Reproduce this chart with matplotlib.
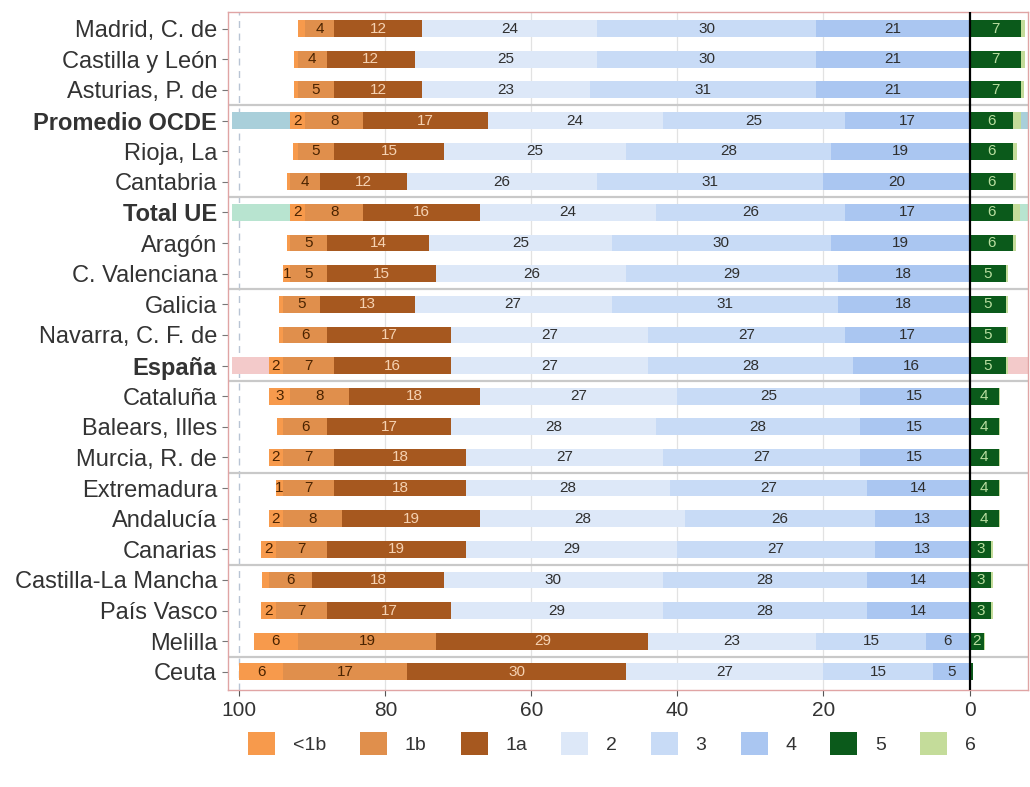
import matplotlib
matplotlib.use('Agg')
import matplotlib.pyplot as plt
from matplotlib.patches import Patch

plt.rcParams['font.family'] = ['Liberation Sans', 'DejaVu Sans']

regions = ['Madrid, C. de', 'Castilla y León', 'Asturias, P. de', 'Promedio OCDE',
           'Rioja, La', 'Cantabria', 'Total UE', 'Aragón', 'C. Valenciana', 'Galicia',
           'Navarra, C. F. de', 'España', 'Cataluña', 'Balears, Illes', 'Murcia, R. de',
           'Extremadura', 'Andalucía', 'Canarias', 'Castilla-La Mancha', 'País Vasco',
           'Melilla', 'Ceuta']

# percentage of students per proficiency level
lvl_lt1b = [0.9, 0.5, 0.5, 2, 0.6, 0.5, 2, 0.5, 1, 0.5, 0.5, 2, 3, 0.9, 2, 1, 2, 2, 0.9, 2, 6, 6]
lvl_1b = [4, 4, 5, 8, 5, 4, 8, 5, 5, 5, 6, 7, 8, 6, 7, 7, 8, 7, 6, 7, 19, 17]
lvl_1a = [12, 12, 12, 17, 15, 12, 16, 14, 15, 13, 17, 16, 18, 17, 18, 18, 19, 19, 18, 17, 29, 30]
lvl_2 = [24, 25, 23, 24, 25, 26, 24, 25, 26, 27, 27, 27, 27, 28, 27, 28, 28, 29, 30, 29, 23, 27]
lvl_3 = [30, 30, 31, 25, 28, 31, 26, 30, 29, 31, 27, 28, 25, 28, 27, 27, 26, 27, 28, 28, 15, 15]
lvl_4 = [21, 21, 21, 17, 19, 20, 17, 19, 18, 18, 17, 16, 15, 15, 15, 14, 13, 13, 14, 14, 6, 5]
lvl_5 = [7, 7, 7, 6, 6, 6, 6, 6, 5, 5, 5, 5, 4, 4, 4, 4, 4, 3, 3, 3, 2, 0.5]
lvl_6 = [0.6, 0.6, 0.5, 1, 0.5, 0.4, 0.9, 0.3, 0.3, 0.3, 0.3, 0.3, 0.2, 0.2, 0.2, 0.2, 0.2, 0.2, 0.2, 0.2, 0.1, 0]

level_names = ['<1b', '1b', '1a', '2', '3', '4', '5', '6']
colors = ['#f79a4c', '#e08f4c', '#a6581f', '#dde8f8', '#c8dbf6', '#aac6f1', '#0b5a1b', '#c4dc9a']
text_colors = ['#4a2300', '#4a2300', '#f6d2b2', '#2e2e2e', '#2e2e2e', '#2e2e2e', '#b9dea0', '#333333']

highlight = {'Promedio OCDE': '#a9cfda', 'Total UE': '#b8e4d0', 'España': '#f3caca'}

fig = plt.figure(figsize=(10.3, 7.87), dpi=100)
ax = fig.add_axes([0.221, 0.123, 0.777, 0.862])

y = list(range(len(regions)))
h = 0.55

# highlighted rows
for i, r in enumerate(regions):
    if r in highlight:
        ax.barh(i, 110, left=-9, height=h, color=highlight[r], zorder=0.5)

# grid and reference lines
for gx in [20, 40, 60, 80]:
    ax.axvline(gx, color='#e2e2e2', lw=0.9, zorder=0.4)
ax.axvline(100, color='#b8c4d4', lw=1.0, ls=(0, (5, 4)), zorder=0.4)
for sep in [2.5, 5.5, 8.5, 11.5, 14.5, 17.5, 20.5]:
    ax.axhline(sep, color='#c9c9c9', lw=1.6, zorder=0.6)

# stacked from 0 to the left (axis inverted): 4, 3, 2, 1a, 1b, <1b
left_stack = [(5, lvl_4), (4, lvl_3), (3, lvl_2), (2, lvl_1a), (1, lvl_1b), (0, lvl_lt1b)]
start = [0.0] * len(regions)
for k, vals in left_stack:
    ax.barh(y, vals, left=start, height=h, color=colors[k], zorder=2)
    for i, v in enumerate(vals):
        if v >= 1:
            ax.text(start[i] + v / 2, i, f'{round(v)}', ha='center', va='center',
                    fontsize=11, color=text_colors[k], zorder=3)
    start = [s + v for s, v in zip(start, vals)]

# levels 5 and 6 to the right of 0
neg5 = [-v for v in lvl_5]
ax.barh(y, neg5, left=0, height=h, color=colors[6], zorder=2)
ax.barh(y, [-v for v in lvl_6], left=neg5, height=h, color=colors[7], zorder=2)
for i, v in enumerate(lvl_5):
    if v >= 1:
        ax.text(-v / 2, i, f'{round(v)}', ha='center', va='center',
                fontsize=11, color=text_colors[6], zorder=3)

ax.axvline(0, color='black', lw=1.6, zorder=4)

ax.set_xlim(101.6, -8)
ax.set_ylim(21.6, -0.55)
ax.set_yticks(y)
ax.set_yticklabels(regions, fontsize=17, color='#333333')
for lab in ax.get_yticklabels():
    if lab.get_text() in highlight:
        lab.set_fontweight('bold')
        lab.set_color('#111111')
ax.set_xticks([100, 80, 60, 40, 20, 0])
ax.tick_params(axis='x', labelsize=15, colors='#555555', labelcolor='#333333', length=4)
ax.tick_params(axis='y', colors='#777777', labelcolor='#333333', length=4)
for sp in ax.spines.values():
    sp.set_color('#e0a4a4')
    sp.set_linewidth(1.0)

handles = [Patch(facecolor=c, edgecolor='none', label=n) for c, n in zip(colors, level_names)]
fig.legend(handles=handles, loc='center', bbox_to_anchor=(0.594, 0.055), ncol=8,
           frameon=False, fontsize=14, handlelength=1.4, handleheight=1.4,
           columnspacing=1.75, handletextpad=0.9, labelcolor='#333333')

fig.savefig('out.png', dpi=100)
